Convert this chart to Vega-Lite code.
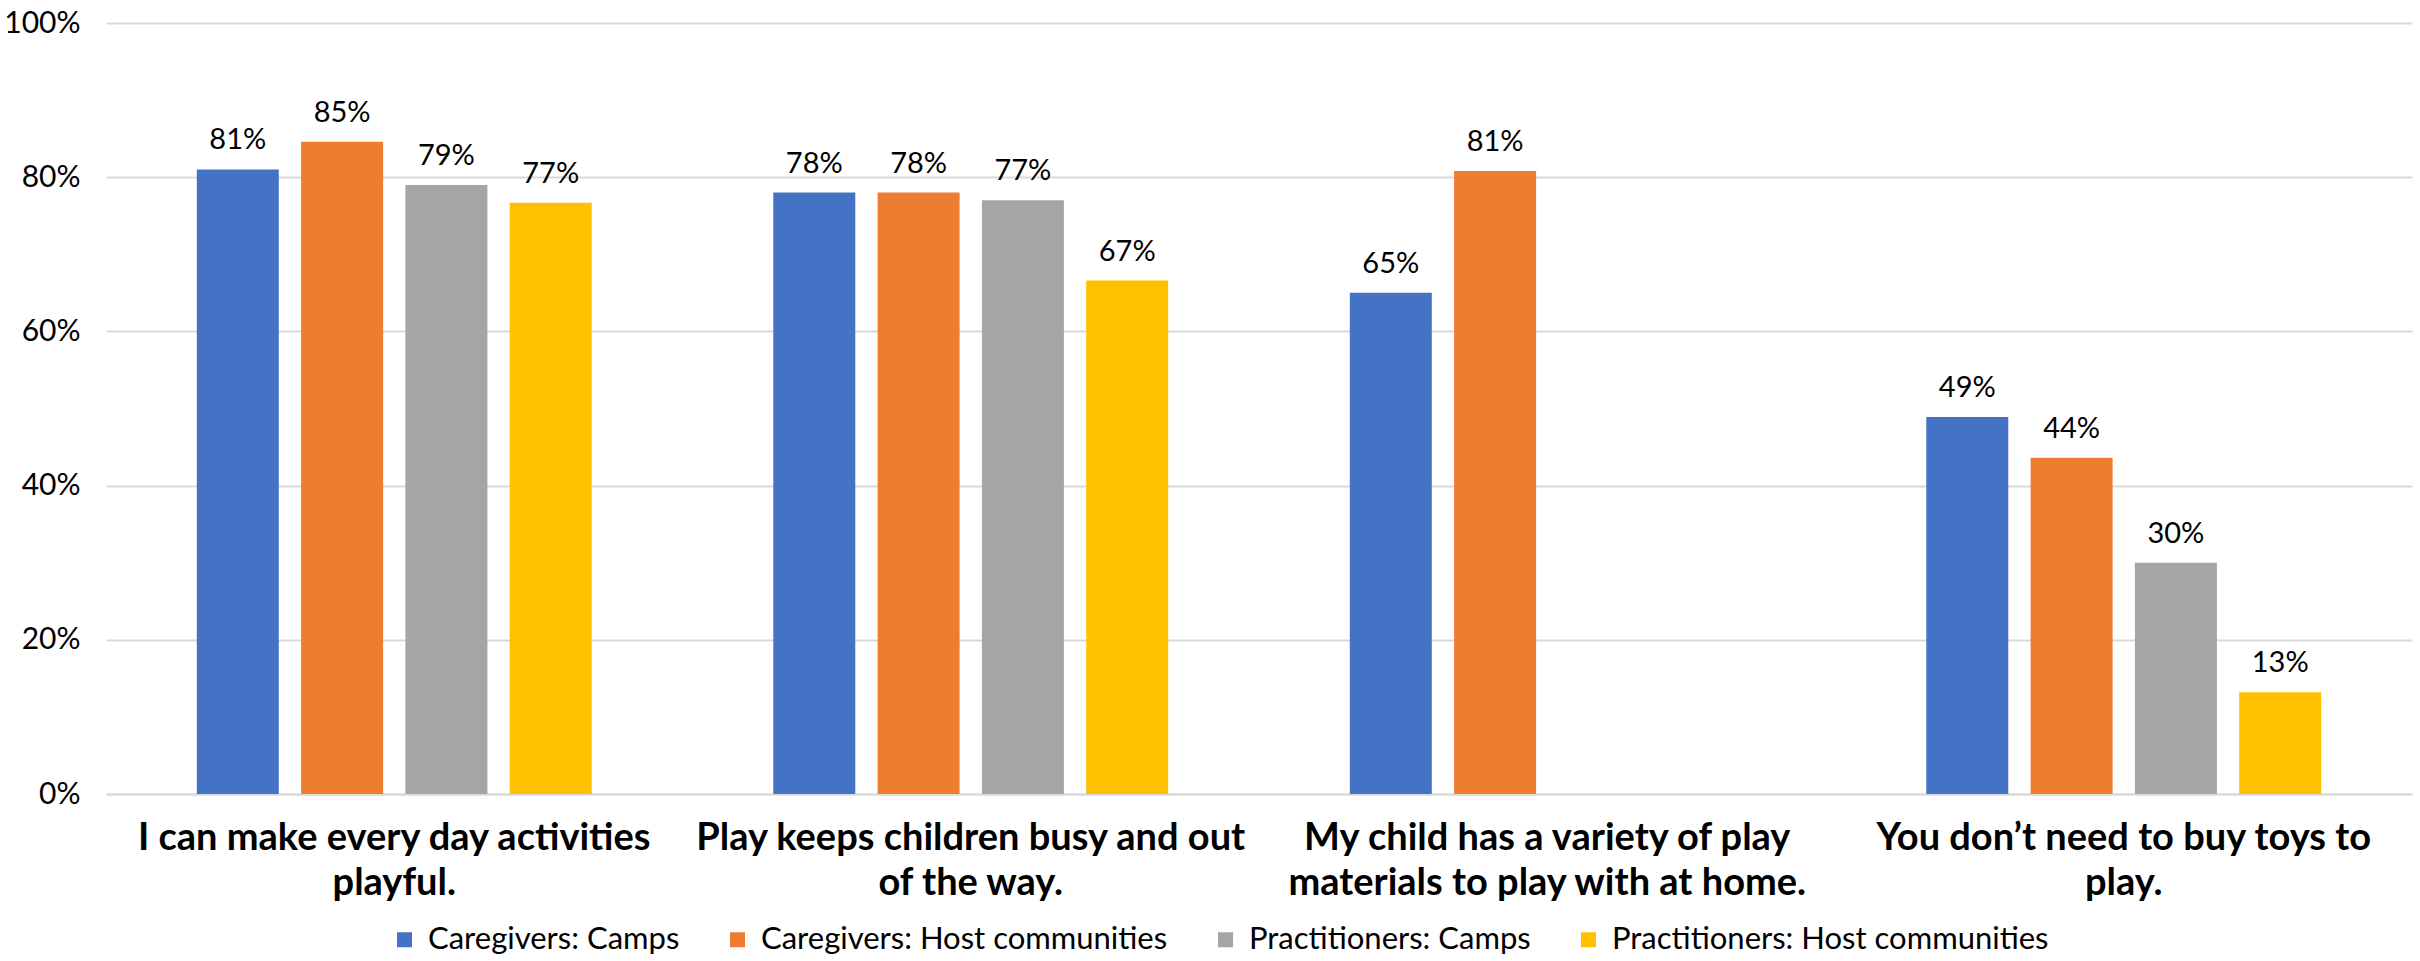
{
  "$schema": "https://vega.github.io/schema/vega-lite/v6.json",
  "width": 2306,
  "height": 771,
  "autosize": {"type": "none"},
  "padding": {"left": 106, "top": 23, "right": 8, "bottom": 167},
  "background": "white",
  "config": {
    "view": {"stroke": null},
    "font": "Lato"
  },
  "data": {
    "values": [
      {"statement": "I can make every day activities\nplayful.", "group": "Caregivers: Camps", "value": 0.810},
      {"statement": "I can make every day activities\nplayful.", "group": "Caregivers: Host communities", "value": 0.846},
      {"statement": "I can make every day activities\nplayful.", "group": "Practitioners: Camps", "value": 0.790},
      {"statement": "I can make every day activities\nplayful.", "group": "Practitioners: Host communities", "value": 0.767},
      {"statement": "Play keeps children busy and out\nof the way.", "group": "Caregivers: Camps", "value": 0.780},
      {"statement": "Play keeps children busy and out\nof the way.", "group": "Caregivers: Host communities", "value": 0.780},
      {"statement": "Play keeps children busy and out\nof the way.", "group": "Practitioners: Camps", "value": 0.770},
      {"statement": "Play keeps children busy and out\nof the way.", "group": "Practitioners: Host communities", "value": 0.666},
      {"statement": "My child has a variety of play\nmaterials to play with at home.", "group": "Caregivers: Camps", "value": 0.650},
      {"statement": "My child has a variety of play\nmaterials to play with at home.", "group": "Caregivers: Host communities", "value": 0.808},
      {"statement": "You don’t need to buy toys to\nplay.", "group": "Caregivers: Camps", "value": 0.489},
      {"statement": "You don’t need to buy toys to\nplay.", "group": "Caregivers: Host communities", "value": 0.436},
      {"statement": "You don’t need to buy toys to\nplay.", "group": "Practitioners: Camps", "value": 0.300},
      {"statement": "You don’t need to buy toys to\nplay.", "group": "Practitioners: Host communities", "value": 0.132}
    ]
  },
  "encoding": {
    "x": {
      "field": "statement",
      "type": "nominal",
      "sort": null,
      "title": null,
      "scale": {"paddingInner": 0.315, "paddingOuter": 0.1575},
      "axis": {
        "labelAngle": 0,
        "labelExpr": "split(datum.label, '\\n')",
        "labelFont": "Lato",
        "labelFontWeight": "bold",
        "labelFontSize": 38,
        "labelLineHeight": 45,
        "labelColor": "#000000",
        "labelPadding": 25,
        "labelBaseline": "top",
        "labelLimit": 0,
        "ticks": false,
        "domain": true,
        "domainColor": "#d9d9d9",
        "domainWidth": 2,
        "grid": false
      }
    },
    "xOffset": {
      "field": "group",
      "type": "nominal",
      "scale": {
        "domain": ["Caregivers: Camps", "Caregivers: Host communities", "Practitioners: Camps", "Practitioners: Host communities"],
        "paddingInner": 0.214,
        "paddingOuter": 0
      }
    },
    "y": {
      "field": "value",
      "type": "quantitative",
      "title": null,
      "scale": {"domain": [0, 1], "nice": false},
      "axis": {
        "values": [0, 0.2, 0.4, 0.6, 0.8, 1],
        "format": ".0%",
        "labelFont": "Lato",
        "labelFontSize": 30,
        "labelColor": "#000000",
        "labelPadding": 26,
        "ticks": false,
        "domain": false,
        "grid": true,
        "gridColor": "#d9d9d9",
        "gridWidth": 2
      }
    }
  },
  "layer": [
    {
      "mark": {"type": "bar"},
      "encoding": {
        "color": {
          "field": "group",
          "type": "nominal",
          "scale": {
            "domain": ["Caregivers: Camps", "Caregivers: Host communities", "Practitioners: Camps", "Practitioners: Host communities"],
            "range": ["#4472C4", "#ED7D31", "#A5A5A5", "#FFC000"]
          },
          "legend": {
            "title": null,
            "orient": "none",
            "direction": "horizontal",
            "legendX": 283,
            "legendY": 901,
            "padding": 0,
            "symbolType": "square",
            "symbolSize": 225,
            "symbolStrokeWidth": 0,
            "labelFont": "Lato",
            "labelFontSize": 31,
            "labelColor": "#000000",
            "labelOffset": 8,
            "labelLimit": 0,
            "columnPadding": 42
          }
        }
      }
    },
    {
      "mark": {"type": "text", "baseline": "alphabetic", "dy": -20, "fontSize": 29, "font": "Lato", "color": "#000000"},
      "encoding": {
        "text": {"field": "value", "type": "quantitative", "format": ".0%"}
      }
    }
  ]
}
